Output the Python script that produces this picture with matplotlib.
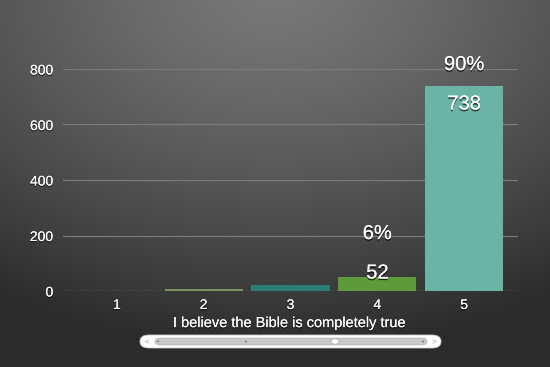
import numpy as np
import matplotlib.pyplot as plt
import matplotlib.patheffects as pe
from matplotlib.patches import FancyBboxPatch, Circle

plt.rcParams['font.family'] = ['Liberation Sans', 'DejaVu Sans']

# data
categories = [1, 2, 3, 4, 5]
counts = [0, 6, 20, 52, 738]
bar_colors = ['#7a7a7a', '#7d9160', '#2a7d70', '#5f9a3a', '#6ab3a5']
value_labels = {4: '52', 5: '738'}
pct_labels = {4: '6%', 5: '90%'}
yticks = [0, 200, 400, 600, 800]
xlabel = 'I believe the Bible is completely true'

W, H = 550, 367
fig = plt.figure(figsize=(W / 100, H / 100), dpi=100)

# radial gradient background
bg = fig.add_axes([0, 0, 1, 1], zorder=-10)
yy, xx = np.mgrid[0:H, 0:W]
r = np.sqrt(((xx - 275) / 520.0) ** 2 + ((yy + 10) / 360.0) ** 2)
r = np.clip(r, 0, 1)
g = 0.47 - 0.30 * r ** 1.3
bg.imshow(np.dstack([g, g, g]), aspect='auto', extent=[0, 1, 0, 1])
bg.axis('off')

ax = fig.add_axes([63 / W, 1 - 291 / H, (518 - 63) / W, (291 - 69) / H])
ax.patch.set_alpha(0)
ax.bar(categories, counts, width=0.9, color=bar_colors, zorder=3)
ax.set_xlim(0.38, 5.62)
ax.set_ylim(0, 800)
ax.set_yticks(yticks)
ax.set_xticks(categories)
ax.grid(axis='y', color='#7a7a7a', lw=0.9, zorder=0)
for s in ax.spines.values():
    s.set_visible(False)
ax.tick_params(length=0, colors='white', labelsize=10)
ax.tick_params(axis='y', pad=7)
ax.tick_params(axis='x', pad=5)
for lab in ax.get_xticklabels() + ax.get_yticklabels():
    lab.set_path_effects([pe.withSimplePatchShadow(offset=(0, -1), shadow_rgbFace='black', alpha=0.6), pe.Normal()])
ax.set_xlabel(xlabel, color='white', fontsize=10.5, labelpad=3,
              path_effects=[pe.withSimplePatchShadow(offset=(0, -1), shadow_rgbFace='black', alpha=0.6), pe.Normal()])

shadow = [pe.withSimplePatchShadow(offset=(0, -1.2), shadow_rgbFace='black', alpha=0.7), pe.Normal()]
for c, v in zip(categories, counts):
    if c in value_labels:
        ly = max(v - 64, 65)
        ax.text(c, ly, value_labels[c], color='white', fontsize=14.5, ha='center', va='center',
                zorder=5, path_effects=shadow)
        ax.text(c, ly + 142, pct_labels[c], color='white', fontsize=14.5, ha='center', va='center',
                zorder=5, path_effects=shadow, clip_on=False)

# scrollbar widget under the axis
sx0, sx1, sy0, sy1 = 140 / W, 441 / W, 1 - 348 / H, 1 - 335 / H
fig.patches.append(FancyBboxPatch((sx0, sy0), sx1 - sx0, sy1 - sy0,
                                  boxstyle='round,pad=0,rounding_size=0.017',
                                  transform=fig.transFigure, fc='white', ec='#cccccc', lw=0.6))
fig.patches.append(FancyBboxPatch((155 / W, 1 - 345 / H), (427 - 155) / W, 7 / H,
                                  boxstyle='round,pad=0,rounding_size=0.009',
                                  transform=fig.transFigure, fc='#c8c8c8', ec='#b0b0b0', lw=0.4))
for px in [158, 246, 423]:
    fig.patches.append(Circle((px / W, 1 - 341.5 / H), 1.2 / W, transform=fig.transFigure, fc='#777777'))
fig.patches.append(Circle((335 / W, 1 - 341.5 / H), 4 / W, transform=fig.transFigure,
                          fc='white', ec='#aaaaaa', lw=0.5))
fig.text(147 / W, 1 - 342 / H, '<', color='#999999', fontsize=6, ha='center', va='center')
fig.text(434 / W, 1 - 342 / H, '>', color='#999999', fontsize=6, ha='center', va='center')

fig.savefig('out.png', dpi=100)
